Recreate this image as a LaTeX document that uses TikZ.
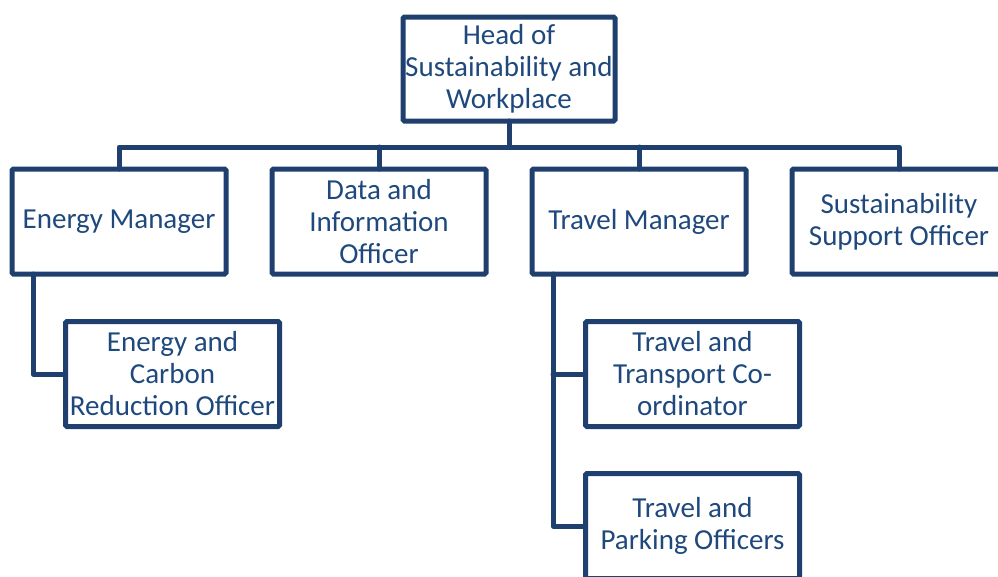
\documentclass[tikz,border=0pt]{standalone}
\usepackage{fontspec}
\setmainfont{Carlito}
\definecolor{navy}{HTML}{1F3F6E}
\definecolor{txt}{HTML}{1F497D}
\begin{document}
\begin{tikzpicture}[x=1pt,y=-1pt,
  box/.style={draw=navy, line width=5pt, rounded corners=1.5pt, rectangle,
    minimum width=214pt, minimum height=105pt, inner sep=0pt, outer sep=0pt,
    align=center, text=txt, font=\fontsize{29}{32}\selectfont},
  conn/.style={draw=navy, line width=5pt, line join=round, line cap=round}]
\useasboundingbox (0,0) rectangle (998,576);
\clip (0,0) rectangle (998,576);
\node[box, minimum width=212pt, minimum height=104pt] (head) at (509,69) {Head of\\Sustainability and\\Workplace};
\node[box] (em) at (119,221.5) {Energy Manager};
\node[box] (dio) at (379,221.5) {Data and\\Information\\Officer};
\node[box] (tm) at (639,221.5) {Travel Manager};
\node[box] (sso) at (899,221.5) {Sustainability\\Support Officer};
\node[box] (ec) at (172.5,374) {Energy and\\Carbon\\Reduction Officer};
\node[box] (ttc) at (692.5,374) {Travel and\\Transport Co-\\ordinator};
\node[box] (tpo) at (692.5,526) {Travel and\\Parking Officers};
\coordinate (bus) at (509,147);
\draw[conn] (head.south) -- (bus);
\draw[conn] (em.north) |- (bus) -| (sso.north);
\draw[conn] (dio.north) -- (dio.north |- bus);
\draw[conn] (tm.north) -- (tm.north |- bus);
\draw[conn] ([xshift=-86pt]em.south) |- (ec.west);
\draw[conn] ([xshift=-86pt]tm.south) |- (tpo.west);
\draw[conn] ([xshift=-86pt]tm.south |- ttc.west) -- (ttc.west);
\end{tikzpicture}
\end{document}
